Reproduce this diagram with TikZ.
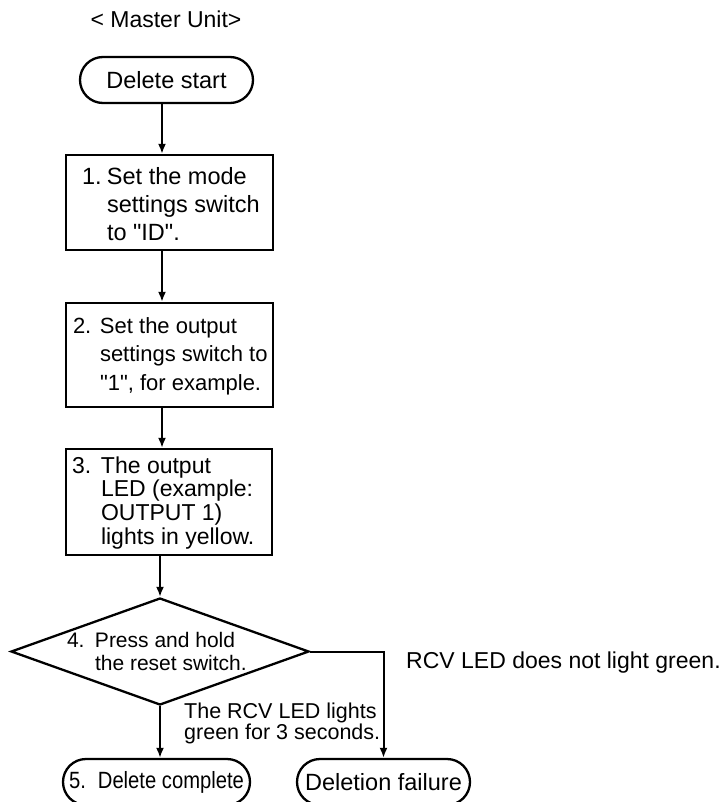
\documentclass[tikz,border=0pt]{standalone}
\usepackage{fontspec}
\usepackage{graphicx}
\setmainfont{Liberation Sans}
\newfontfamily\qf{Liberation Sans}
\usetikzlibrary{shapes.geometric,shapes.misc,arrows.meta}
\newcommand{\placetxt}[3]{\smash{\makebox[0pt][l]{\hspace*{#1}\raisebox{#2}{#3}}}}
\newcommand{\steptab}[5]{\fontsize{#1}{#2}\selectfont\begin{tabular}[t]{@{}l@{}l@{}}\makebox[#4][l]{#3}&#5\end{tabular}}
\newcommand{\dq}{{\qf"}}
\begin{document}
\begin{tikzpicture}[x=1pt,y=-1pt,
  boxst/.style={draw,line width=2.3pt,rectangle,inner sep=0pt,minimum width=207pt},
  term/.style={draw,line width=2.3pt,rounded rectangle,inner sep=0pt,minimum height=46pt},
  conn/.style={line width=2pt,-{Latex[length=10pt,width=8pt]}},
  ]
\useasboundingbox (0,0) rectangle (726,802);
\clip (0,0) rectangle (726,802);
\node[anchor=base,inner sep=0pt,font=\fontsize{23}{28}\selectfont] (title) at (166,28) {< Master Unit>};
\node[term,minimum width=173pt,font=\fontsize{23.5}{28}\selectfont] (st) at (166.5,80) {Delete start};
\node[boxst,minimum height=95pt] (b1) at (169.5,202.5)
  {\placetxt{-87.5pt}{17.5pt}{\steptab{23.5}{28}{1.}{25pt}{Set the mode\\&settings switch\\&to \dq ID\dq.}}};
\node[boxst,minimum height=104pt] (b2) at (169.5,355)
  {\placetxt{-96.5pt}{22pt}{\steptab{22}{28.5}{2.}{27pt}{Set the output\\&settings switch to\\&\dq 1\dq, for example.}}};
\node[boxst,minimum height=106pt,minimum width=206pt] (b3) at (169,502)
  {\placetxt{-97pt}{29pt}{\steptab{23}{23.7}{3.}{29pt}{The output\\&LED (example:\\&OUTPUT 1)\\&lights in yellow.}}};
\node[draw,line width=2.3pt,diamond,inner sep=0pt,minimum width=298pt,minimum height=107pt] (d) at (160,651.5)
  {\placetxt{-93pt}{4.5pt}{\steptab{21}{23}{4.}{28pt}{Press and hold\\&the reset switch.}}};
\node[term,minimum width=187pt,font=\fontsize{23.5}{28}\selectfont] (t5) at (156.5,782)
  {\scalebox{0.86}[1]{5.\hspace{14pt}Delete complete}};
\node[term,minimum width=173pt,font=\fontsize{23.5}{28}\selectfont] (t6) at (383.5,782) {Deletion failure};
\node[anchor=base west,inner sep=0pt,font=\fontsize{23}{28}\selectfont] (lno) at (406,668) {RCV LED does not light green.};
\node[anchor=base west,inner sep=0pt] (lyes) at (184,718)
  {\fontsize{21.5}{20}\selectfont\begin{tabular}[t]{@{}l@{}}The RCV LED lights\\green for 3 seconds.\end{tabular}};
\coordinate (ax) at (162,0);
\draw[conn] (st.south -| ax) -- (b1.north -| ax);
\draw[conn] (b1.south -| ax) -- (b2.north -| ax);
\draw[conn] (b2.south -| ax) -- (b3.north -| ax);
\draw[conn] (b3.south -| d.north) -- (d.north);
\draw[conn] (d.south) -- (d.south |- t5.north);
\draw[conn] (d.east) -| (t6.north);
\end{tikzpicture}
\end{document}
